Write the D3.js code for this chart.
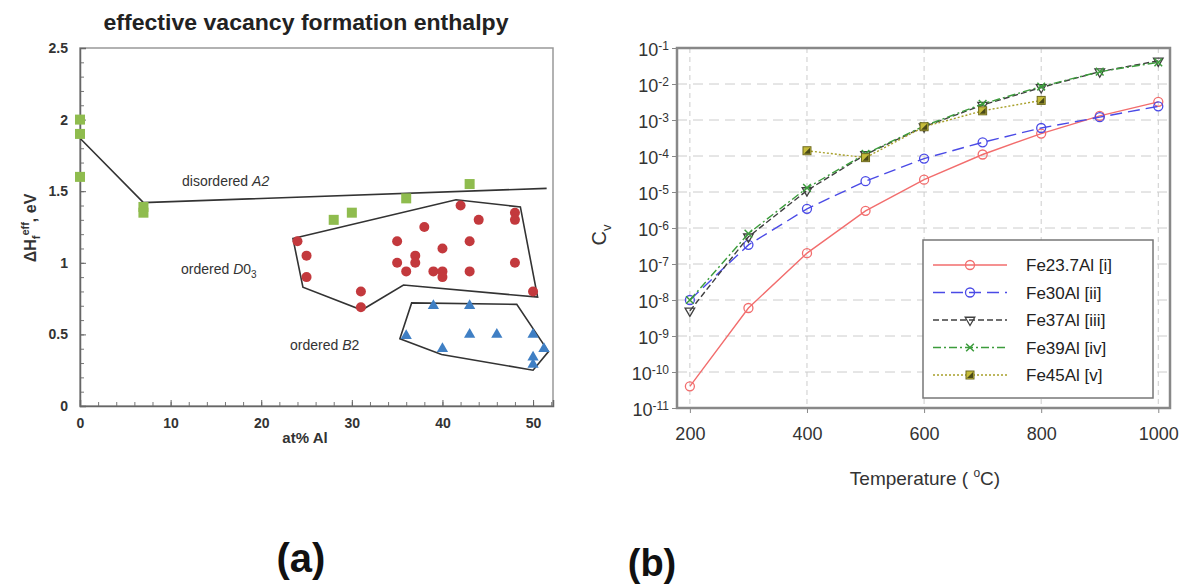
<!DOCTYPE html>
<html>
<head>
<meta charset="utf-8">
<script src="https://cdn.jsdelivr.net/npm/d3@7"></script>
<style>
  body { margin: 0; background: #fff; }
  text { font-family: Arial, "Liberation Sans", sans-serif; }
</style>
</head>
<body>
<div id="chart"></div>
<script>
// ---- panel (a) data : [at% Al, eV]
var a2Points = [[0, 2.0], [0, 1.9], [0, 1.6], [7, 1.39], [7, 1.35], [28, 1.3], [30, 1.35], [36, 1.45], [43, 1.55]];
var a2Line = [[0, 1.87], [7, 1.42], [51.5, 1.52]];
var d03Points = [[24, 1.15], [25, 1.05], [25, 0.9], [31, 0.8], [31, 0.69], [35, 1.15], [35, 1.0], [36, 0.94],
                 [37, 1.05], [37, 1.0], [38, 1.25], [39, 0.94], [40, 1.1], [40, 0.94], [40, 0.9], [42, 1.4],
                 [43, 1.15], [43, 0.94], [44, 1.3], [48, 1.35], [48, 1.3], [48, 1.0], [50, 0.8]];
var d03Hull = [[23.5, 1.17], [41.5, 1.44], [48.6, 1.39], [50.5, 0.76], [35.7, 0.845], [31.1, 0.67], [24.6, 0.83]];
var b2Points = [[39, 0.7], [43, 0.7], [36, 0.49], [43, 0.5], [46, 0.5], [50, 0.5], [40, 0.4], [51.2, 0.4], [50, 0.34], [50, 0.29]];
var b2Hull = [[36.6, 0.72], [48.2, 0.71], [51.7, 0.38], [50, 0.25], [39.9, 0.36], [35.3, 0.47]];
var aTicksX = [0, 10, 20, 30, 40, 50];
var aTicksY = [0, 0.5, 1, 1.5, 2, 2.5];

// ---- panel (b) data : vacancy concentration vs temperature
var temps = [200, 300, 400, 500, 600, 700, 800, 900, 1000];
var fe237 = [4e-11, 6e-9, 2e-7, 3e-6, 2.2e-5, 1.1e-4, 4.2e-4, 1.3e-3, 3.2e-3];
var fe30 = [1e-8, 3.4e-7, 3.4e-6, 2e-5, 8.5e-5, 2.4e-4, 6e-4, 1.2e-3, 2.4e-3];
var fe37 = [5e-9, 5.7e-7, 1.1e-5, 1.1e-4, 6.5e-4, 2.6e-3, 8e-3, 2.2e-2, 4.4e-2];
var fe39 = [1e-8, 7e-7, 1.3e-5, 1.15e-4, 6.8e-4, 2.8e-3, 8.5e-3, 2.2e-2, 4e-2];
var temps45 = [400, 500, 600, 700, 800];
var fe45 = [1.4e-4, 9e-5, 6.5e-4, 1.8e-3, 3.5e-3];
var bTicksX = [200, 400, 600, 800, 1000];
var bTicksExp = [-1, -2, -3, -4, -5, -6, -7, -8, -9, -10, -11];

var svg = d3.select("#chart").append("svg")
    .attr("width", 1188).attr("height", 584);

// ================= panel (a)
var xa = d3.scaleLinear().domain([0, 52.2]).range([80, 553]);
var ya = d3.scaleLinear().domain([0, 2.5]).range([406, 48]);

svg.append("rect")
    .attr("x", xa(0)).attr("y", ya(2.5))
    .attr("width", xa(52.2) - xa(0)).attr("height", ya(0) - ya(2.5))
    .attr("fill", "none").attr("stroke", "#999").attr("stroke-width", 1.5);

// minor ticks
svg.append("g").attr("transform", "translate(0," + ya(0) + ")")
    .call(d3.axisBottom(xa).tickValues(d3.range(0, 53, 2)).tickSize(-4).tickFormat(""))
    .call(g => g.select(".domain").remove())
    .selectAll("line").attr("stroke", "#777");
svg.append("g").attr("transform", "translate(" + xa(0) + ",0)")
    .call(d3.axisLeft(ya).tickValues(d3.range(0, 26).map(d => d / 10)).tickSize(-4).tickFormat(""))
    .call(g => g.select(".domain").remove())
    .selectAll("line").attr("stroke", "#777");

var axA = svg.append("g").attr("transform", "translate(0," + ya(0) + ")")
    .call(d3.axisBottom(xa).tickValues(aTicksX).tickSize(-6).tickPadding(12));
var ayA = svg.append("g").attr("transform", "translate(" + xa(0) + ",0)")
    .call(d3.axisLeft(ya).tickValues(aTicksY).tickSize(-6).tickPadding(12).tickFormat(d3.format("")));
[axA, ayA].forEach(g => {
    g.select(".domain").attr("stroke", "#666").attr("stroke-width", 1.5);
    g.selectAll("line").attr("stroke", "#666");
    g.selectAll("text").attr("fill", "#333").style("font-size", "14px").style("font-weight", "bold");
});

svg.append("text").attr("x", 306).attr("y", 30).attr("text-anchor", "middle")
    .style("font-size", "22px").style("font-weight", "bold").attr("fill", "#222")
    .attr("textLength", 405).attr("lengthAdjust", "spacingAndGlyphs")
    .text("effective vacancy formation enthalpy");

svg.append("text").attr("x", 305).attr("y", 443).attr("text-anchor", "middle")
    .style("font-size", "15px").style("font-weight", "bold").attr("fill", "#333")
    .text("at% Al");

var yl = svg.append("text").attr("transform", "translate(36,228) rotate(-90)")
    .attr("text-anchor", "middle").style("font-size", "16px").style("font-weight", "bold").attr("fill", "#333");
yl.append("tspan").text("ΔH");
yl.append("tspan").attr("dy", 4).style("font-size", "11px").text("f");
yl.append("tspan").attr("dy", -11).style("font-size", "11px").text("eff");
yl.append("tspan").attr("dy", 7).text(", eV");

var lineA = d3.line().x(d => xa(d[0])).y(d => ya(d[1]));
svg.append("path").attr("d", lineA(a2Line)).attr("fill", "none").attr("stroke", "#333").attr("stroke-width", 1.6);
svg.append("path").attr("d", lineA(d03Hull) + "Z").attr("fill", "none").attr("stroke", "#333").attr("stroke-width", 1.6);
svg.append("path").attr("d", lineA(b2Hull) + "Z").attr("fill", "none").attr("stroke", "#333").attr("stroke-width", 1.6);

svg.selectAll(".sq").data(a2Points).enter().append("rect")
    .attr("x", d => xa(d[0]) - 5).attr("y", d => ya(d[1]) - 5)
    .attr("width", 10).attr("height", 10).attr("fill", "#8fbc4e");
svg.selectAll(".dot").data(d03Points).enter().append("circle")
    .attr("cx", d => xa(d[0])).attr("cy", d => ya(d[1])).attr("r", 5).attr("fill", "#c3393d");
var tri = d3.symbol().type(d3.symbolTriangle).size(55);
svg.selectAll(".tri").data(b2Points).enter().append("path")
    .attr("d", tri).attr("transform", d => "translate(" + xa(d[0]) + "," + ya(d[1]) + ")")
    .attr("fill", "#3f7fc4");

var lab = function (x, y, parts) {
    var t = svg.append("text").attr("x", x).attr("y", y).style("font-size", "14px").attr("fill", "#333");
    parts.forEach(p => {
        var s = t.append("tspan").text(p.t);
        if (p.i) s.style("font-style", "italic");
        if (p.sub) s.attr("dy", 4).style("font-size", "10px");
    });
};
lab(182, 186, [{t: "disordered "}, {t: "A2", i: true}]);
lab(181, 274, [{t: "ordered "}, {t: "D", i: true}, {t: "0"}, {t: "3", sub: true}]);
lab(290, 350, [{t: "ordered "}, {t: "B", i: true}, {t: "2"}]);

svg.append("text").attr("x", 301).attr("y", 572).attr("text-anchor", "middle")
    .style("font-size", "40px").style("font-weight", "bold").attr("fill", "#111").text("(a)");

// ================= panel (b)
var xb = d3.scaleLinear().domain([178, 1020]).range([677, 1170]);
var yb = d3.scaleLog().domain([1e-11, 1e-1]).range([408, 48]);

// grid
svg.append("g").selectAll("line").data(bTicksExp.slice(1, 10)).enter().append("line")
    .attr("x1", xb(178)).attr("x2", xb(1020))
    .attr("y1", d => yb(Math.pow(10, d))).attr("y2", d => yb(Math.pow(10, d)))
    .attr("stroke", "#ccc").attr("stroke-dasharray", "10,6");
svg.append("g").selectAll("line").data(bTicksX).enter().append("line")
    .attr("x1", d => xb(d)).attr("x2", d => xb(d))
    .attr("y1", yb(1e-1)).attr("y2", yb(1e-11))
    .attr("stroke", "#ccc").attr("stroke-dasharray", "5,4");

svg.append("rect")
    .attr("x", xb(178)).attr("y", yb(1e-1))
    .attr("width", xb(1020) - xb(178)).attr("height", yb(1e-11) - yb(1e-1))
    .attr("fill", "none").attr("stroke", "#888").attr("stroke-width", 2.5);

var axB = svg.append("g").attr("transform", "translate(0," + yb(1e-11) + ")")
    .call(d3.axisBottom(xb).tickValues(bTicksX).tickSize(5).tickPadding(14).tickFormat(d3.format("d")));
axB.select(".domain").remove();
axB.selectAll("line").attr("stroke", "#888");
axB.selectAll("text").attr("fill", "#333").style("font-size", "18px");

var ayB = svg.append("g").attr("transform", "translate(" + xb(178) + ",0)")
    .call(d3.axisLeft(yb).tickValues(bTicksExp.map(e => Math.pow(10, e))).tickSize(5).tickPadding(6).tickFormat(""));
ayB.select(".domain").remove();
ayB.selectAll("line").attr("stroke", "#888");
ayB.selectAll(".tick").each(function (d) {
    var t = d3.select(this).append("text").attr("x", -8).attr("dy", "0.4em")
        .attr("text-anchor", "end").attr("fill", "#333").style("font-size", "18px");
    t.append("tspan").text("10");
    t.append("tspan").attr("dy", "-0.45em").style("font-size", "12px").text(Math.round(Math.log10(d)));
});

svg.append("text").attr("x", 925).attr("y", 485).attr("text-anchor", "middle")
    .style("font-size", "19px").attr("fill", "#333")
    .call(t => {
        t.append("tspan").text("Temperature ( ");
        t.append("tspan").attr("dy", -8).style("font-size", "12px").text("o");
        t.append("tspan").attr("dy", 8).text("C)");
    });

var cv = svg.append("text").attr("transform", "translate(606,235) rotate(-90)")
    .attr("text-anchor", "middle").style("font-size", "20px").attr("fill", "#333");
cv.append("tspan").text("C");
cv.append("tspan").attr("dy", 5).style("font-size", "13px").text("v");

var series = [
    {name: "Fe23.7Al [i]", x: temps, y: fe237, color: "#f26d6d", dash: null, mark: "circle"},
    {name: "Fe30Al [ii]", x: temps, y: fe30, color: "#4a4ae6", dash: "12,6", mark: "circle"},
    {name: "Fe37Al [iii]", x: temps, y: fe37, color: "#404040", dash: "6,3", mark: "tri"},
    {name: "Fe39Al [iv]", x: temps, y: fe39, color: "#3c9c3c", dash: "8,3,2,3", mark: "cross"},
    {name: "Fe45Al [v]", x: temps45, y: fe45, color: "#a8a02a", dash: "2,2", mark: "square"}
];

var lineB = d3.line().x(d => xb(d[0])).y(d => yb(d[1]));

function marker(g, s, x, y) {
    if (s.mark === "circle") {
        g.append("circle").attr("cx", x).attr("cy", y).attr("r", 4.5)
            .attr("fill", "none").attr("stroke", s.color).attr("stroke-width", 1.3);
    } else if (s.mark === "tri") {
        g.append("path").attr("d", d3.symbol().type(d3.symbolTriangle).size(40))
            .attr("transform", "translate(" + x + "," + y + ") rotate(180)")
            .attr("fill", "none").attr("stroke", s.color).attr("stroke-width", 1.3);
    } else if (s.mark === "cross") {
        g.append("path").attr("d", d3.symbol().type(d3.symbolX).size(40))
            .attr("transform", "translate(" + x + "," + y + ")")
            .attr("fill", "none").attr("stroke", s.color).attr("stroke-width", 1.5);
    } else {
        g.append("rect").attr("x", x - 4).attr("y", y - 4).attr("width", 8).attr("height", 8)
            .attr("fill", "#c6bc3a").attr("stroke", "#6e6a20").attr("stroke-width", 1);
        g.append("path").attr("d", "M" + (x - 3) + "," + (y + 3) + "L" + (x + 3) + "," + (y - 3) + "L" + (x + 3) + "," + (y + 3) + "Z")
            .attr("fill", "#4a4a18");
    }
}

series.forEach(s => {
    var pts = s.x.map((t, i) => [t, s.y[i]]);
    var g = svg.append("g");
    g.append("path").attr("d", lineB(pts)).attr("fill", "none")
        .attr("stroke", s.color).attr("stroke-width", 1.4)
        .attr("stroke-dasharray", s.dash);
    pts.forEach(p => marker(g, s, xb(p[0]), yb(p[1])));
});

// legend
var leg = svg.append("g");
leg.append("rect").attr("x", 923).attr("y", 240).attr("width", 230).attr("height", 158)
    .attr("fill", "#fff").attr("stroke", "#777").attr("stroke-width", 1.5);
series.forEach((s, i) => {
    var y = 265 + i * 27.5;
    leg.append("line").attr("x1", 933).attr("x2", 1007).attr("y1", y).attr("y2", y)
        .attr("stroke", s.color).attr("stroke-width", 1.4).attr("stroke-dasharray", s.dash);
    marker(leg, s, 970, y);
    leg.append("text").attr("x", 1026).attr("y", y + 6).style("font-size", "17px")
        .attr("fill", "#222").text(s.name);
});

svg.append("text").attr("x", 652).attr("y", 576).attr("text-anchor", "middle")
    .style("font-size", "38px").style("font-weight", "bold").attr("fill", "#111").text("(b)");
</script>
</body>
</html>
